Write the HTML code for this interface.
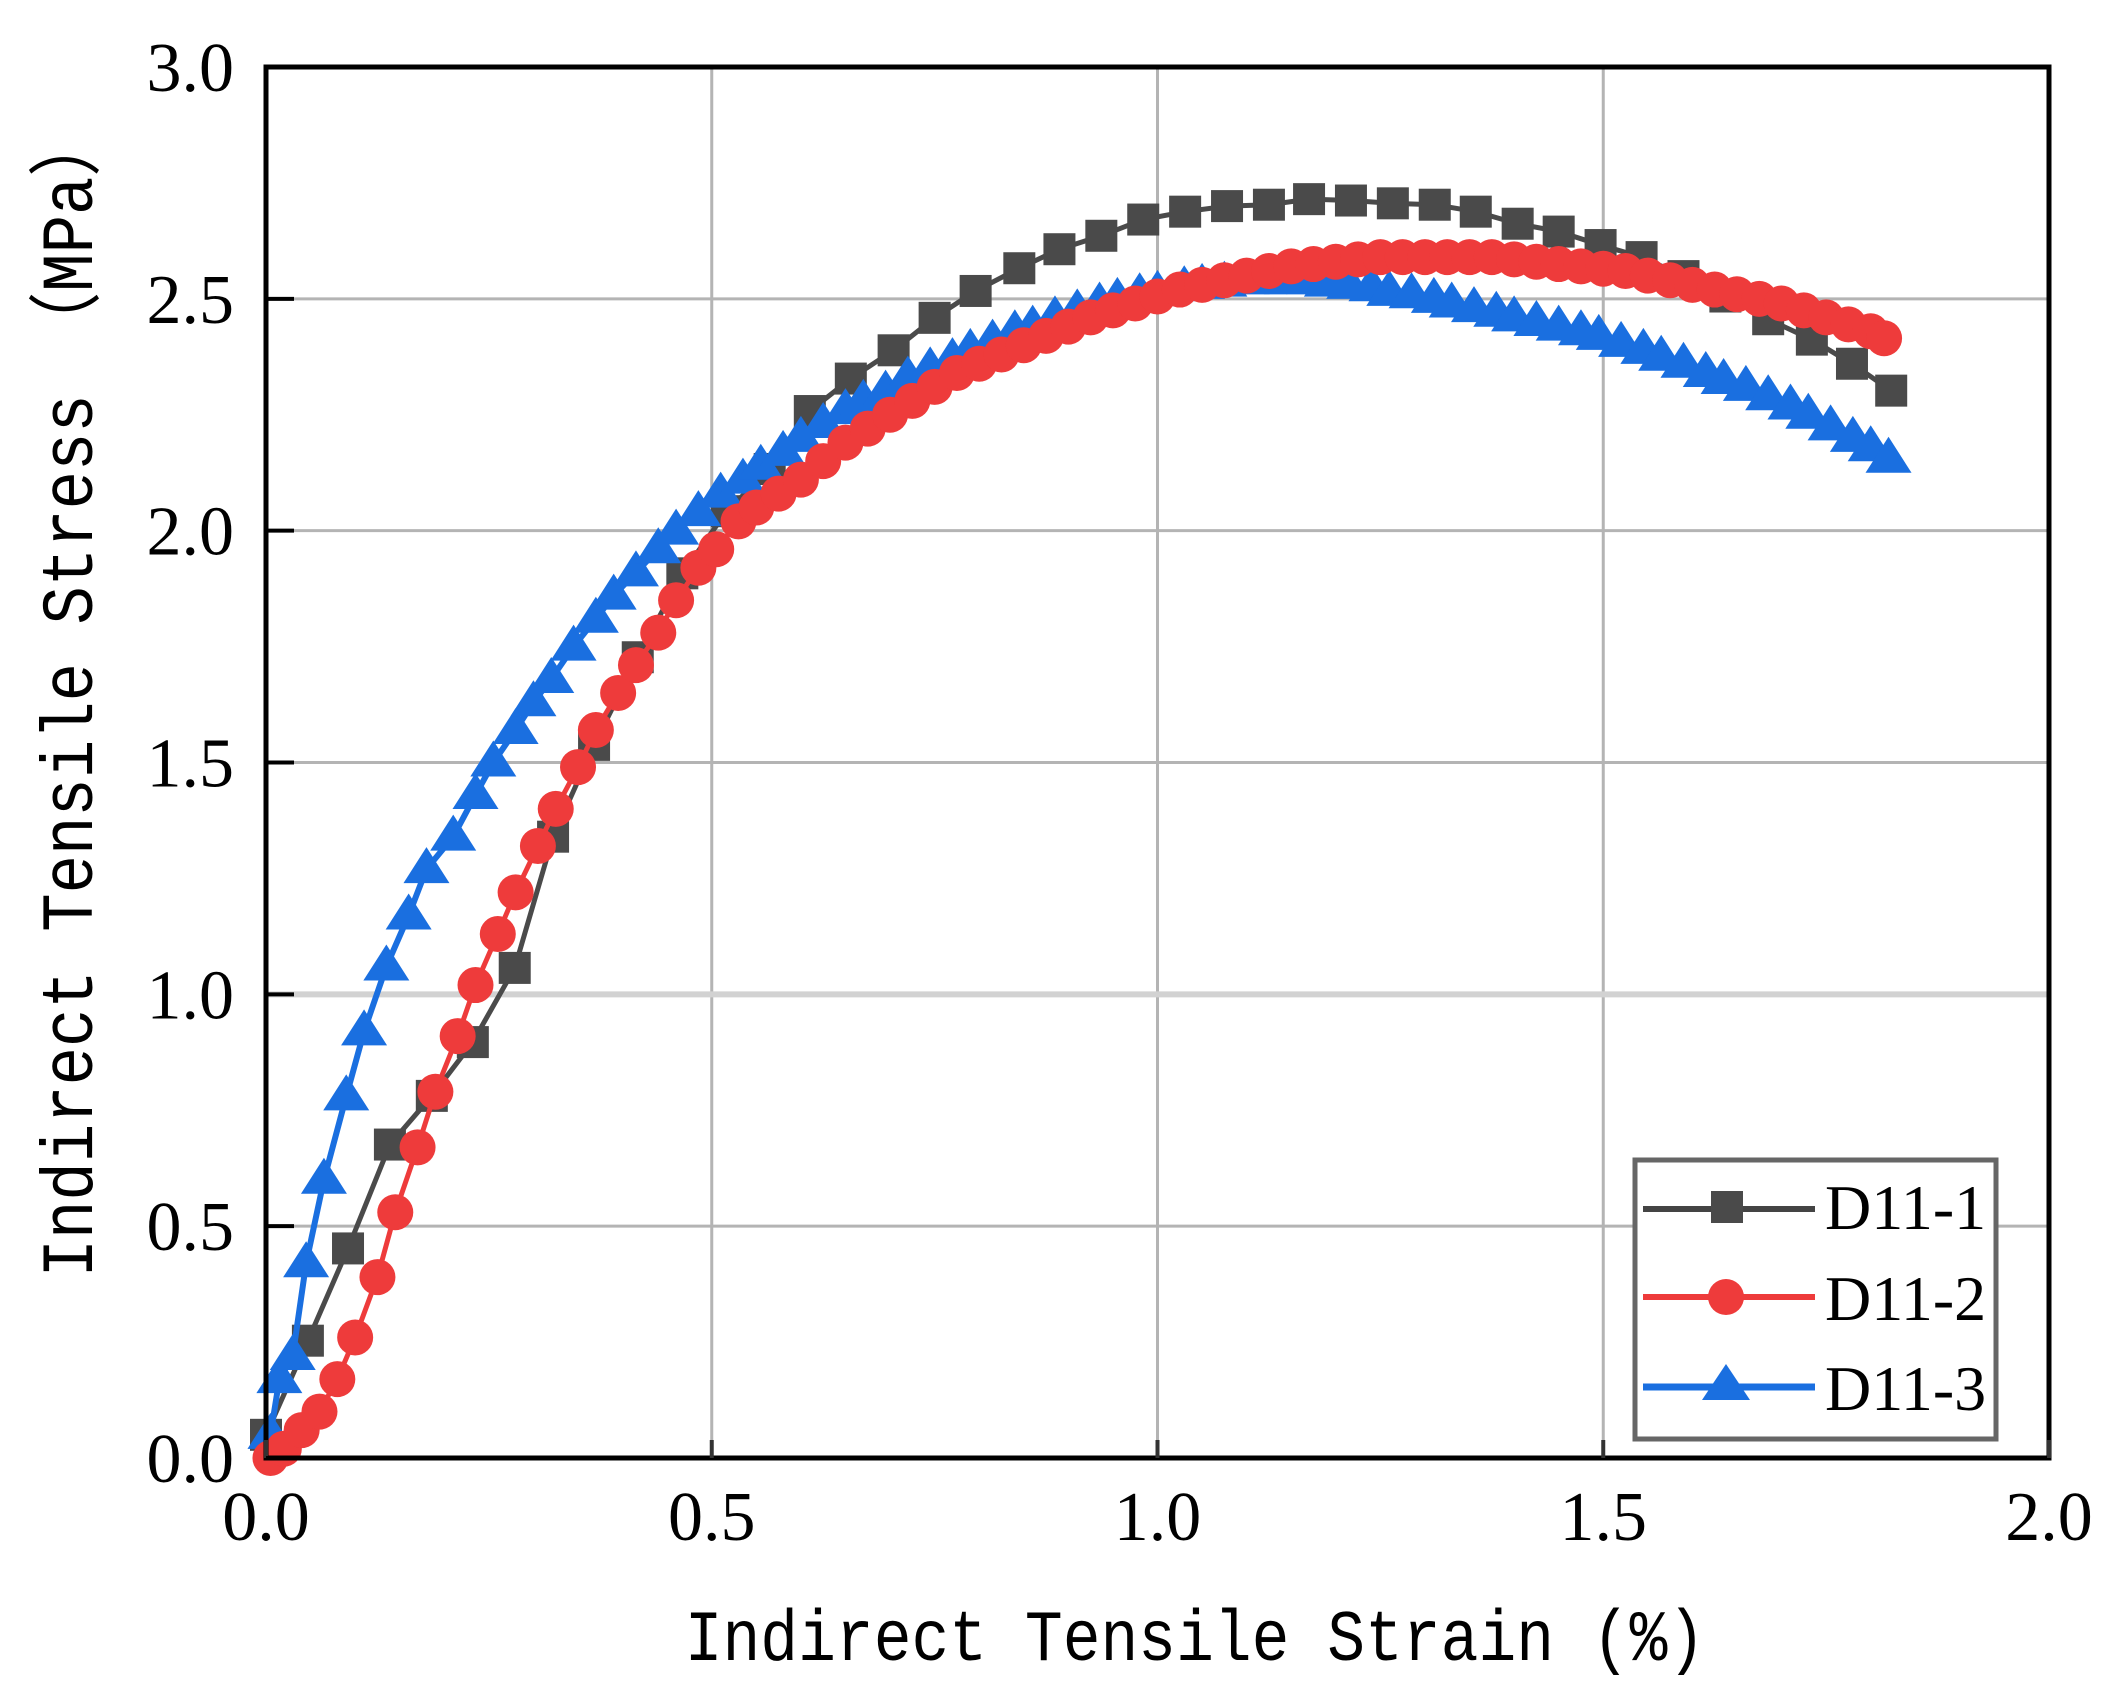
<!DOCTYPE html>
<html><head><meta charset="utf-8"><style>
html,body{margin:0;padding:0;background:#fff;}
svg{display:block;}
</style></head><body>
<svg id="chart" width="2117" height="1707" viewBox="0 0 2117 1707" xmlns="http://www.w3.org/2000/svg">
<g id="grid"></g>
<g id="series"></g>
<rect x="266" y="67" width="1783" height="1391" fill="none" stroke="#000" stroke-width="5"/>
<g id="ticks"></g>
<text x="1195" y="1660" text-anchor="middle" font-family="Liberation Mono, monospace" font-size="63" fill="#000" transform="translate(1195,1660) scale(1,1.15) translate(-1195,-1660)">Indirect Tensile Strain (%)</text>
<text transform="translate(92,695) rotate(-90) scale(1,1.15)" text-anchor="middle" font-family="Liberation Mono, 'Noto Sans CJK SC', monospace" font-size="64" fill="#000">Indirect Tensile Stress （MPa）</text>
<g>
<rect x="1635" y="1160" width="361" height="279" fill="#fff" stroke="#666" stroke-width="5"/>
<g>
<line x1="1643" y1="1209" x2="1815" y2="1209" stroke="#444" stroke-width="6"/>
<rect x="1711" y="1191" width="32" height="32" fill="#4a4a4a"/>
<text x="1825" y="1229" font-family="Liberation Serif, serif" font-size="64" fill="#000">D11-1</text></g>
<g>
<line x1="1643" y1="1297" x2="1815" y2="1297" stroke="#ee3b3b" stroke-width="6"/>
<circle cx="1726" cy="1297" r="18" fill="#ee3b3b"/>
<text x="1825" y="1320" font-family="Liberation Serif, serif" font-size="64" fill="#000">D11-2</text></g>
<g>
<line x1="1643" y1="1387" x2="1815" y2="1387" stroke="#1a6fe0" stroke-width="7"/>
<polygon points="1726,1364 1750,1400 1702,1400" fill="#1a6fe0"/>
<text x="1825" y="1410" font-family="Liberation Serif, serif" font-size="64" fill="#000">D11-3</text></g>
</g>
</svg>
<script>
const xTicks=[0,0.5,1.0,1.5,2.0];
const yTicks=[0,0.5,1.0,1.5,2.0,2.5,3.0];
const xTickLabels=["0.0","0.5","1.0","1.5","2.0"];
const yTickLabels=["0.0","0.5","1.0","1.5","2.0","2.5","3.0"];
const d1x=[0,0.047,0.092,0.139,0.186,0.232,0.279,0.322,0.368,0.417,0.467,0.517,0.565,0.610,0.656,0.704,0.750,0.796,0.845,0.890,0.937,0.984,1.031,1.078,1.125,1.170,1.217,1.264,1.311,1.357,1.404,1.450,1.497,1.543,1.590,1.637,1.685,1.734,1.779,1.823];
const d1y=[0.05,0.253,0.452,0.676,0.781,0.897,1.057,1.340,1.538,1.727,1.908,2.042,2.133,2.258,2.328,2.389,2.459,2.517,2.566,2.607,2.636,2.671,2.688,2.700,2.703,2.715,2.712,2.706,2.703,2.688,2.662,2.645,2.616,2.590,2.549,2.505,2.456,2.412,2.360,2.302];
const d2x=[0.005,0.02,0.04,0.06,0.08,0.10,0.125,0.145,0.17,0.19,0.215,0.235,0.26,0.28,0.305,0.325,0.35,0.37,0.395,0.415,0.44,0.46,0.485,0.505,0.53,0.55,0.575,0.60,0.625,0.65,0.675,0.70,0.725,0.75,0.775,0.80,0.825,0.85,0.875,0.90,0.925,0.95,0.975,1.0,1.025,1.05,1.075,1.10,1.125,1.15,1.175,1.20,1.225,1.25,1.275,1.30,1.325,1.35,1.375,1.40,1.425,1.45,1.475,1.50,1.525,1.55,1.575,1.60,1.625,1.65,1.675,1.70,1.725,1.75,1.775,1.80,1.815];
const d2y=[0.0,0.02,0.06,0.10,0.17,0.26,0.39,0.53,0.67,0.79,0.91,1.02,1.13,1.22,1.32,1.40,1.49,1.57,1.65,1.71,1.78,1.85,1.92,1.96,2.02,2.05,2.08,2.11,2.15,2.19,2.22,2.25,2.28,2.31,2.34,2.36,2.38,2.40,2.42,2.44,2.46,2.475,2.49,2.505,2.52,2.53,2.54,2.55,2.56,2.57,2.575,2.58,2.585,2.59,2.59,2.59,2.59,2.59,2.59,2.585,2.58,2.575,2.57,2.565,2.56,2.55,2.54,2.53,2.52,2.51,2.50,2.49,2.475,2.46,2.445,2.43,2.415];
const d3x=[0.005,0.015,0.03,0.045,0.065,0.09,0.11,0.135,0.16,0.18,0.21,0.235,0.255,0.28,0.30,0.32,0.345,0.37,0.39,0.415,0.44,0.46,0.485,0.51,0.535,0.555,0.58,0.60,0.625,0.65,0.67,0.695,0.72,0.745,0.77,0.79,0.815,0.84,0.86,0.885,0.91,0.935,0.955,0.98,1.0,1.03,1.05,1.075,1.10,1.12,1.145,1.17,1.19,1.215,1.24,1.26,1.285,1.31,1.33,1.355,1.38,1.40,1.425,1.45,1.475,1.495,1.52,1.545,1.565,1.59,1.615,1.635,1.66,1.685,1.71,1.73,1.755,1.78,1.80,1.82];
const d3y=[0.05,0.17,0.22,0.42,0.60,0.78,0.92,1.06,1.17,1.27,1.34,1.43,1.50,1.57,1.63,1.68,1.75,1.81,1.86,1.91,1.96,2.00,2.04,2.08,2.11,2.14,2.17,2.20,2.23,2.26,2.28,2.30,2.33,2.35,2.37,2.39,2.41,2.43,2.44,2.46,2.475,2.49,2.50,2.51,2.515,2.525,2.53,2.535,2.54,2.54,2.54,2.54,2.535,2.53,2.525,2.515,2.51,2.50,2.49,2.48,2.47,2.46,2.45,2.44,2.43,2.42,2.405,2.39,2.375,2.36,2.34,2.325,2.31,2.29,2.27,2.25,2.225,2.20,2.18,2.155];
const NS='http://www.w3.org/2000/svg';
const X0=266,X1=2049,Y0=1458,Y1=67;
function sx(v){return X0+(v-0)/(2-0)*(X1-X0);}
function sy(v){return Y0-(v-0)/(3-0)*(Y0-Y1);}
function mk(tag,attrs,parent){const e=document.createElementNS(NS,tag);for(const k in attrs)e.setAttribute(k,attrs[k]);parent.appendChild(e);return e;}
const grid=document.getElementById('grid'),ticks=document.getElementById('ticks'),ser=document.getElementById('series');
xTicks.forEach((t,i)=>{
  const g=mk('line',{x1:sx(t),x2:sx(t),y1:Y1,y2:Y0,stroke:'#b4b4b4','stroke-width':3},grid);
  
  
  const tk=mk('line',{x1:sx(t),x2:sx(t),y1:Y0,y2:Y0-18,stroke:'#333','stroke-width':4},ticks);
  
  
  const tx=mk('text',{x:sx(t),y:1540,'text-anchor':'middle','font-family':'Liberation Serif, serif','font-size':70,fill:'#000'},ticks);
  tx.textContent=xTickLabels[i];
  
  
});
yTicks.forEach((t,i)=>{
  const g=mk('line',{x1:X0,x2:X1,y1:sy(t),y2:sy(t),stroke:t===1?'#d2d2d2':'#b4b4b4','stroke-width':t===1?6:3},grid);
  
  
  const tk=mk('line',{x1:X0,x2:X0+28,y1:sy(t),y2:sy(t),stroke:'#000','stroke-width':4},ticks);
  
  
  const tx=mk('text',{x:234,y:sy(t)+24,'text-anchor':'end','font-family':'Liberation Serif, serif','font-size':70,fill:'#000'},ticks);
  tx.textContent=yTickLabels[i];
  
  
});
function drawSeries(xs,ys,color,shape,name,lw){
  const g=mk('g',{},ser);
  
  
  const pts=xs.map((x,i)=>sx(x)+','+sy(ys[i])).join(' ');
  const pl=mk('polyline',{points:pts,fill:'none',stroke:color,'stroke-width':lw},g);
  
  
  xs.forEach((x,i)=>{
    const cx=sx(x),cy=sy(ys[i]);let m;
    if(shape==='square')m=mk('rect',{x:cx-16,y:cy-16,width:32,height:32,fill:color},g);
    else if(shape==='circle')m=mk('circle',{cx:cx,cy:cy,r:18,fill:color},g);
    else m=mk('polygon',{points:`${cx},${cy-22} ${cx+23},${cy+14} ${cx-23},${cy+14}`,fill:color},g);
    
    
  });
}
drawSeries(d1x,d1y,'#4a4a4a','square','series-d11-1',5);
drawSeries(d3x,d3y,'#1a6fe0','triangle','series-d11-3',6);
drawSeries(d2x,d2y,'#ee3b3b','circle','series-d11-2',5);
</script>
</body></html>
